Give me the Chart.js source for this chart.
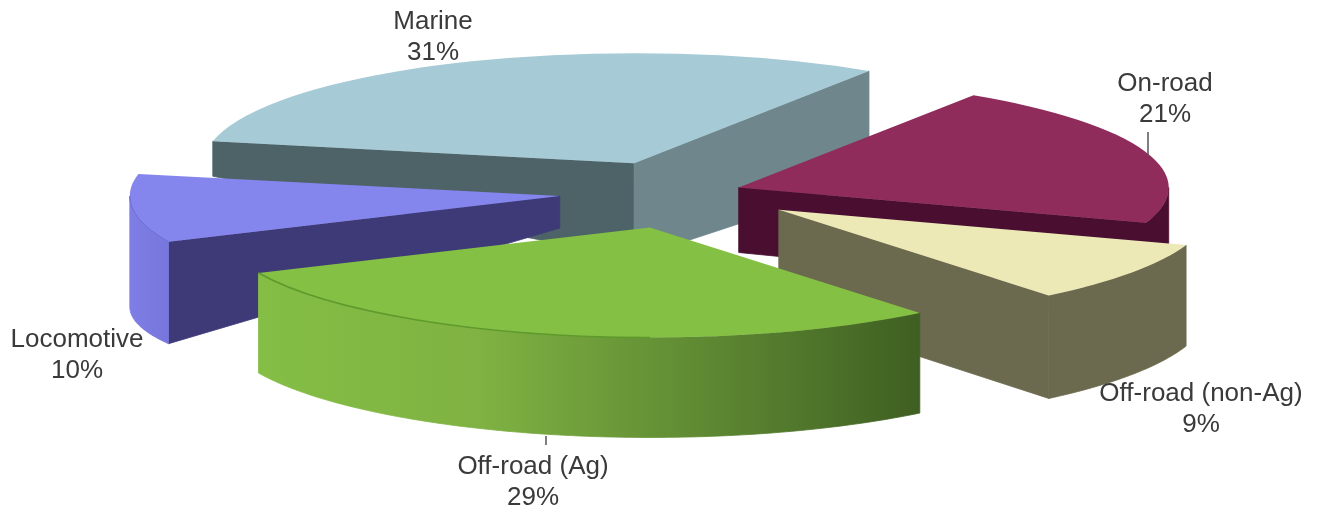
<!DOCTYPE html>
<html><head><meta charset="utf-8">
<script src="https://cdn.jsdelivr.net/npm/chart.js@4"></script>
<style>html,body{margin:0;padding:0;background:#fff;overflow:hidden}canvas{display:block}</style>
</head><body>
<canvas id="c" width="1319" height="509"></canvas>
<script>
const categories = ['Marine','On-road','Off-road (non-Ag)','Off-road (Ag)','Locomotive'];
const shares = [31,21,9,29,10];
const topColors = ['#a6cbd6','#902c5c','#ece9b6','#84c044','#8585ee'];
const explode = [124,60,118,140,123];
const depthAtStart = [35,65,101,100,102];
const depthAtApex = [95,65,101,100,32];
const depthAtEnd = [110,70,103,100,115];
const startWall = ['#4e6367',null,null,null,'#3e3a78'];
const endWall = ['#6e868c','#4a0e30','#6b6a4e',null,null];
const rimStops = [
  null,
  ['#4a0e30','#4a0e30'],
  ['#6b6a4e','#6b6a4e'],
  ['#84be45','#7fb242','#5f8a33','#3f5f22'],
  ['#7e7ee6','#7676dc']
];
const paintOrder = [0,1,4,2,3];
const labelSpots = [[433,22],[1165,84],[1201,394],[533,467],[77,340]];
const squash = 0.256;
const lineGap = 31;

const pie3d = {
  id:'pie3d',
  beforeDatasetsDraw(chart){
    const ctx = chart.ctx;
    const arcs = chart.getDatasetMeta(0).data;
    const step = Math.PI/180;
    paintOrder.forEach(i=>{
      const a = arcs[i];
      const s = a.startAngle, e = a.endAngle, r = a.outerRadius, mid=(s+e)/2;
      const ox = a.x + explode[i]*Math.cos(mid);
      const oy = a.y + explode[i]*Math.sin(mid)*squash;
      const px = t=>ox+r*Math.cos(t), py = t=>oy+r*Math.sin(t)*squash;
      const dep = t=>depthAtStart[i]+(depthAtEnd[i]-depthAtStart[i])*(t-s)/(e-s);
      const radial=(t,d,col)=>{
        ctx.beginPath();
        ctx.moveTo(ox,oy);ctx.lineTo(px(t),py(t));
        ctx.lineTo(px(t),py(t)+d);ctx.lineTo(ox,oy+depthAtApex[i]);
        ctx.closePath();ctx.fillStyle=col;ctx.fill();
        ctx.strokeStyle=col;ctx.lineWidth=0.8;ctx.stroke();
      };
      if(startWall[i]) radial(s,depthAtStart[i],startWall[i]);
      if(endWall[i]) radial(e,depthAtEnd[i],endWall[i]);
      const lo=Math.max(s,0), hi=Math.min(e,Math.PI);
      if(rimStops[i] && hi>lo){
        const g=ctx.createLinearGradient(Math.min(px(lo),px(hi)),0,Math.max(px(lo),px(hi)),0);
        rimStops[i].forEach((c,k)=>g.addColorStop(k/(rimStops[i].length-1),c));
        ctx.beginPath();
        for(let t=lo;t<hi;t+=step) ctx.lineTo(px(t),py(t));
        ctx.lineTo(px(hi),py(hi));
        ctx.lineTo(px(hi),py(hi)+dep(hi));
        for(let t=hi;t>lo;t-=step) ctx.lineTo(px(t),py(t)+dep(t));
        ctx.lineTo(px(lo),py(lo)+dep(lo));
        ctx.closePath();ctx.fillStyle=g;ctx.fill();
        ctx.strokeStyle=g;ctx.lineWidth=0.8;ctx.stroke();
      }
      ctx.beginPath();
      ctx.moveTo(ox,oy);
      ctx.ellipse(ox,oy,r,r*squash,0,s,e);
      ctx.closePath();
      ctx.fillStyle=a.options.backgroundColor;ctx.fill();
      if(i===3){
        ctx.beginPath();ctx.ellipse(ox,oy,r,r*squash,0,Math.PI/2,e);
        ctx.strokeStyle='#5f9a2d';ctx.lineWidth=1.5;ctx.stroke();
      }
      if(i===4){
        ctx.beginPath();ctx.ellipse(ox,oy,r,r*squash,0,s,Math.PI);
        ctx.strokeStyle='#6a6ad0';ctx.lineWidth=1;ctx.stroke();
      }
    });
    return false;
  },
  afterDraw(chart){
    const ctx=chart.ctx;
    ctx.save();
    ctx.strokeStyle='#555';ctx.lineWidth=1.5;
    ctx.beginPath();ctx.moveTo(1148,132);ctx.lineTo(1148,156);
    ctx.moveTo(546,436);ctx.lineTo(546,445);ctx.stroke();
    ctx.fillStyle='#3a3a3a';
    ctx.font='26px "Liberation Sans"';
    ctx.textAlign='center';ctx.textBaseline='middle';
    categories.forEach((n,i)=>{
      const [x,y]=labelSpots[i];
      ctx.fillText(n,x,y);
      ctx.fillText(shares[i]+'%',x,y+lineGap);
    });
    ctx.restore();
  }
};

new Chart(document.getElementById('c'),{
  type:'pie',
  data:{labels:categories,datasets:[{data:shares,backgroundColor:topColors,offset:explode,borderWidth:0}]},
  options:{
    responsive:false,animation:false,
    rotation:-78.5,radius:430,
    layout:{padding:{left:45,right:0,top:0,bottom:124}},
    plugins:{legend:{display:false},tooltip:{enabled:false}}
  },
  plugins:[pie3d]
});
</script>
</body></html>
